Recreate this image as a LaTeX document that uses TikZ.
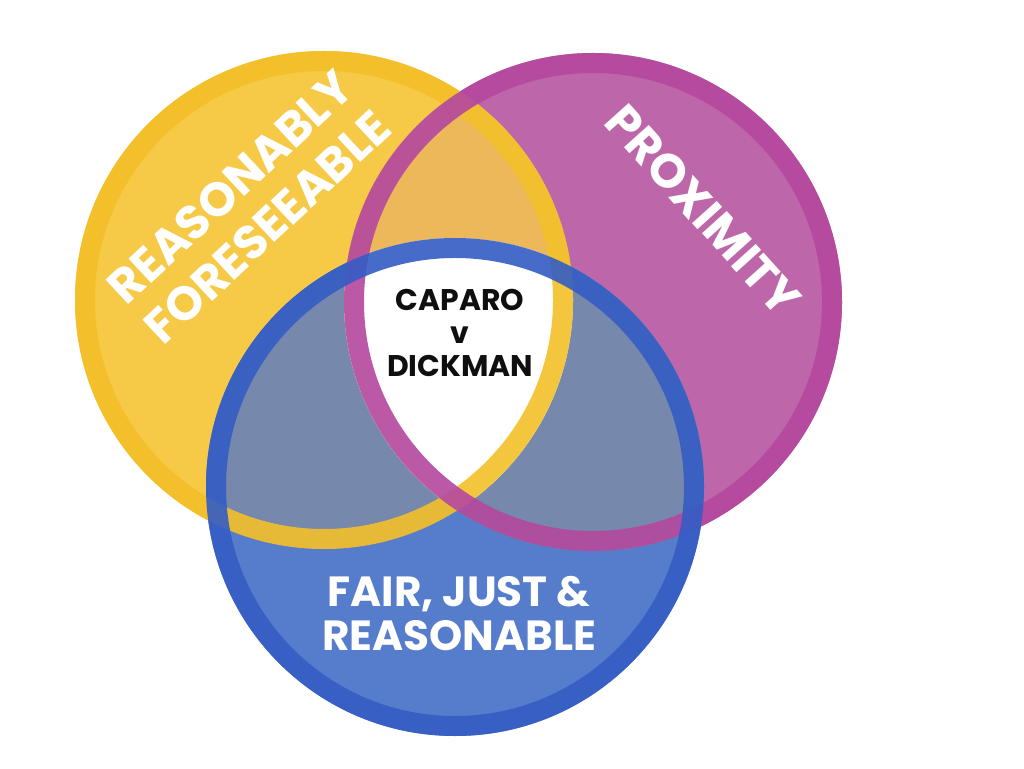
\documentclass[tikz,border=0pt]{standalone}
\usepackage{fontspec}
\setmainfont{Poppins}
\usetikzlibrary{positioning}
\definecolor{vyellow}{RGB}{246,202,70}
\definecolor{vyellowring}{RGB}{243,192,42}
\definecolor{vmagenta}{RGB}{190,102,170}
\definecolor{vmagentaring}{RGB}{181,72,158}
\definecolor{vblue}{RGB}{86,124,204}
\definecolor{vbluering}{RGB}{52,92,196}
\definecolor{vorange}{RGB}{236,184,90}
\definecolor{vgrey}{RGB}{118,136,172}
\definecolor{vink}{RGB}{15,15,15}

\begin{document}
\begin{tikzpicture}[
    x=0.02cm, y=0.02cm,
    ring/.style={line width=0.4cm, opacity=0.9},
    bigtext/.style={font=\bfseries\fontsize{27}{31}\selectfont, text=white, align=center},
    casetext/.style={font=\bfseries\fontsize{17}{19}\selectfont, text=vink, align=center}
]
\fill[white] (0,0) rectangle (1024,768);
\useasboundingbox (0,0) rectangle (1024,768);

\coordinate (yc) at (324,468);
\coordinate (mc) at (593,466);
\coordinate (bc) at (455,281);

% circles
\fill[vyellow] (yc) circle (249);
\fill[vmagenta] (mc) circle (249);
\fill[vblue] (bc) circle (249);

% overlaps
\begin{scope}
  \clip (mc) circle (249);
  \fill[vgrey] (bc) circle (249);
\end{scope}
\begin{scope}
  \clip (yc) circle (249);
  \fill[vorange] (mc) circle (249);
  \fill[vgrey] (bc) circle (249);
  \clip (mc) circle (249);
  \fill[white] (bc) circle (249);
\end{scope}

% rings
\draw[ring, vyellowring] (yc) circle (239);
\draw[ring, vmagentaring] (mc) circle (239);
\draw[ring, vbluering] (bc) circle (239);

% labels
\node[bigtext, rotate=43] (foresee) at (249,561) {REASONABLY\\FORESEEABLE};
\node[bigtext, rotate=-48] (prox) at (703,558) {PROXIMITY};
\node[bigtext, font=\bfseries\fontsize{24}{25}\selectfont] (fair) at (459,154) {FAIR, JUST \&\\REASONABLE};
\node[casetext] (caparo) at (460,435) {CAPARO\\v\\DICKMAN};
\end{tikzpicture}
\end{document}
